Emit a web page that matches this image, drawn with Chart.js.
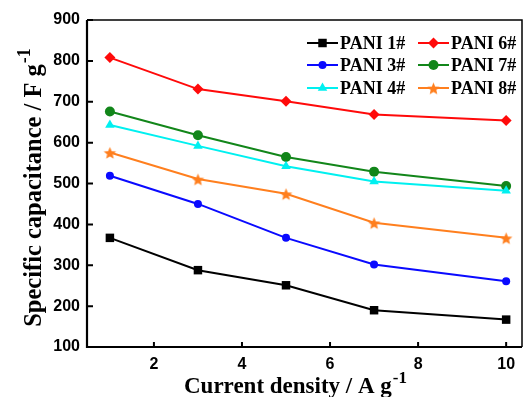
<!DOCTYPE html>
<html>
<head>
<meta charset="utf-8">
<script src="https://cdn.jsdelivr.net/npm/chart.js@4"></script>
<style>
  html, body { margin: 0; padding: 0; background: #fff; }
  #wrap { width: 528px; height: 397px; }
</style>
</head>
<body>
<div id="wrap"><canvas id="chart" width="528" height="397"></canvas></div>
<script>
// data
const currentDensity = [1, 3, 5, 7, 10];
const pani1 = [367, 288, 251, 190, 167];
const pani3 = [519, 450, 367, 302, 261];
const pani4 = [643, 592, 542, 505, 482];
const pani6 = [808, 731, 701, 669, 654];
const pani7 = [676, 618, 565, 529, 494];
const pani8 = [576, 511, 475, 404, 367];
const xTicks = [2, 4, 6, 8, 10];
const yTicks = [100, 200, 300, 400, 500, 600, 700, 800, 900];

// filled five-point star for PANI 8#
function makeStar(color, r) {
  const c = document.createElement('canvas');
  const s = Math.ceil(r * 2 + 2);
  c.width = s; c.height = s;
  const g = c.getContext('2d');
  g.fillStyle = color;
  g.beginPath();
  for (let i = 0; i < 10; i++) {
    const rad = i % 2 === 0 ? r : r * 0.45;
    const a = -Math.PI / 2 + i * Math.PI / 5;
    const px = s / 2 + Math.cos(a) * rad, py = s / 2 + 1 + Math.sin(a) * rad;
    i === 0 ? g.moveTo(px, py) : g.lineTo(px, py);
  }
  g.closePath();
  g.fill();
  return c;
}
const starImg = makeStar('#ff7f1e', 6.5);

function series(label, values, color, style, radius) {
  return {
    label: label,
    data: currentDensity.map((x, i) => ({ x: x, y: values[i] })),
    borderColor: color,
    backgroundColor: color,
    borderWidth: 2,
    pointStyle: style,
    pointRadius: radius,
    pointBorderWidth: 0,
    pointHoverRadius: radius,
    tension: 0
  };
}

const datasets = [
  series('PANI 1#', pani1, '#000000', 'rect', 6),
  series('PANI 3#', pani3, '#0a0aff', 'circle', 4),
  series('PANI 4#', pani4, '#00f0f0', 'triangle', 5.5),
  series('PANI 6#', pani6, '#ff0a0a', 'rectRot', 5.5),
  series('PANI 7#', pani7, '#12861a', 'circle', 5),
  series('PANI 8#', pani8, '#ff7f1e', starImg, 6)
];

const serif = '"Liberation Serif", "Times New Roman", serif';
const sans = '"Liberation Sans", Arial, sans-serif';

// frame, inward ticks, legend and axis titles
const decor = {
  id: 'decor',
  afterDraw(chart) {
    const ctx = chart.ctx;
    const a = chart.chartArea;
    const xs = chart.scales.x, ys = chart.scales.y;
    ctx.save();
    ctx.strokeStyle = '#000';
    // frame
    ctx.lineWidth = 1.5;
    ctx.beginPath();
    ctx.moveTo(a.left, a.top); ctx.lineTo(a.right, a.top); ctx.lineTo(a.right, a.bottom);
    ctx.stroke();
    ctx.lineWidth = 2.2;
    ctx.beginPath();
    ctx.moveTo(a.left, a.top); ctx.lineTo(a.left, a.bottom); ctx.lineTo(a.right, a.bottom);
    ctx.stroke();
    // inward ticks
    ctx.lineWidth = 2;
    ctx.beginPath();
    xTicks.forEach(v => {
      const px = xs.getPixelForValue(v);
      ctx.moveTo(px, a.bottom); ctx.lineTo(px, a.bottom - 5);
    });
    yTicks.forEach(v => {
      const py = ys.getPixelForValue(v);
      ctx.moveTo(a.left, py); ctx.lineTo(a.left + 6, py);
    });
    ctx.stroke();

    // legend, two columns
    const cols = [[0, 1, 2], [3, 4, 5]];
    const colX = [307, 418];
    const rowY = [43, 65, 88];
    cols.forEach((col, ci) => {
      col.forEach((di, ri) => {
        const ds = chart.data.datasets[di];
        const x0 = colX[ci], y0 = rowY[ri];
        ctx.strokeStyle = ds.borderColor;
        ctx.fillStyle = ds.backgroundColor;
        ctx.lineWidth = 2;
        ctx.beginPath();
        ctx.moveTo(x0, y0); ctx.lineTo(x0 + 31, y0);
        ctx.stroke();
        Chart.helpers.drawPoint(ctx, {
          pointStyle: ds.pointStyle, radius: ds.pointRadius, borderWidth: 0, rotation: 0
        }, x0 + 15.5, y0);
        ctx.font = 'bold 18px ' + serif;
        ctx.textBaseline = 'middle';
        ctx.textAlign = 'left';
        ctx.fillStyle = '#000';
        ctx.fillText(ds.label, x0 + 33, y0 + 1);
      });
    });

    // axis titles with superscript
    function titled(main, sup, size, cx, baseline) {
      ctx.font = 'bold ' + size + 'px ' + serif;
      const w1 = ctx.measureText(main).width;
      ctx.font = 'bold ' + Math.round(size * 0.72) + 'px ' + serif;
      const w2 = ctx.measureText(sup).width;
      const start = cx - (w1 + w2) / 2;
      ctx.textAlign = 'left';
      ctx.textBaseline = 'alphabetic';
      ctx.fillStyle = '#000';
      ctx.font = 'bold ' + size + 'px ' + serif;
      ctx.fillText(main, start, baseline);
      ctx.font = 'bold ' + Math.round(size * 0.72) + 'px ' + serif;
      ctx.fillText(sup, start + w1 + 1, baseline - size * 0.45);
    }
    titled('Current density / A g', '-1', 23, 295, 393);
    ctx.save();
    ctx.translate(41, 188);
    ctx.rotate(-Math.PI / 2);
    titled('Specific capacitance / F g', '-1', 24.5, 0, 0);
    ctx.restore();
    ctx.restore();
  }
};

new Chart(document.getElementById('chart').getContext('2d'), {
  type: 'line',
  data: { datasets: datasets },
  options: {
    responsive: false,
    animation: false,
    layout: { padding: { top: 20, right: 5, left: 0, bottom: 0 } },
    scales: {
      x: {
        type: 'linear',
        min: 0.48,
        max: 10.36,
        afterBuildTicks: s => { s.ticks = xTicks.map(v => ({ value: v })); },
        afterFit: s => { s.height = 50; },
        grid: { display: false, drawTicks: false },
        border: { display: false },
        ticks: {
          color: '#000',
          padding: 8,
          maxRotation: 0,
          font: { family: sans, size: 16, weight: 'bold' }
        }
      },
      y: {
        min: 100,
        max: 900,
        afterBuildTicks: s => { s.ticks = yTicks.map(v => ({ value: v })); },
        afterFit: s => { s.width = 87; },
        grid: { display: false, drawTicks: false },
        border: { display: false },
        ticks: {
          color: '#000',
          padding: 7,
          font: { family: sans, size: 16, weight: 'bold' }
        }
      }
    },
    plugins: {
      legend: { display: false },
      tooltip: { enabled: false }
    }
  },
  plugins: [decor]
});
</script>
</body>
</html>
